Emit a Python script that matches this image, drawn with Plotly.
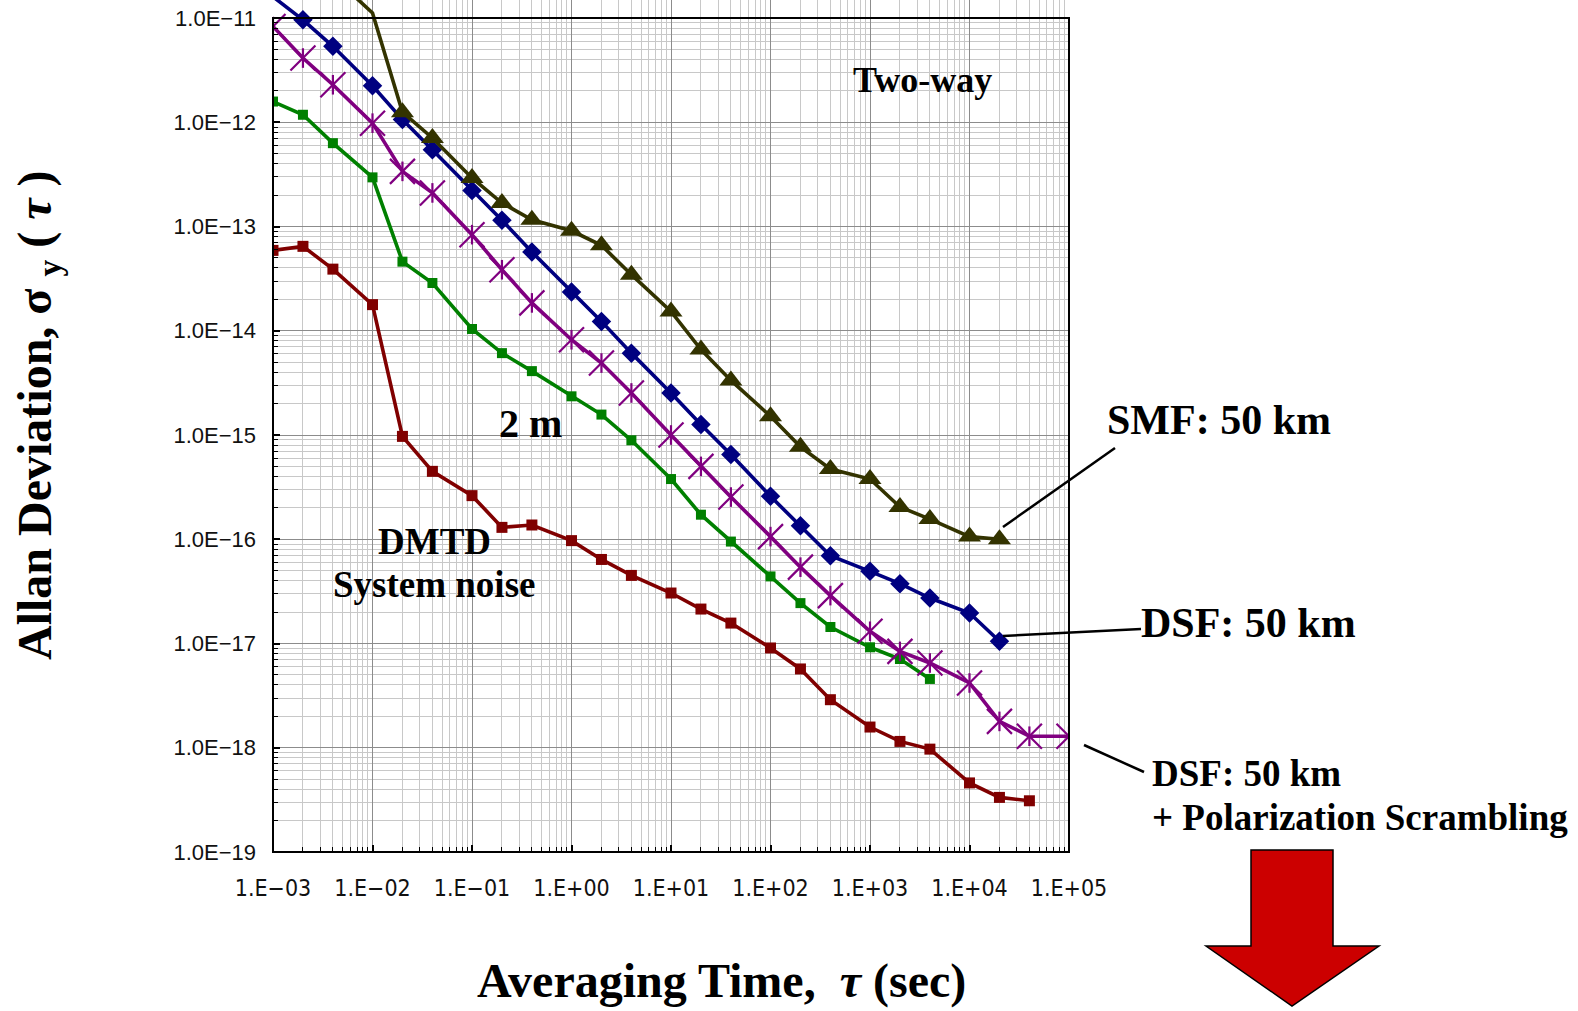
import numpy as np
import plotly.graph_objects as go

# ---------------- data ----------------
tau_dmtd = [1e-3, 2e-3, 4e-3, 1e-2, 2e-2, 4e-2, 0.1, 0.2, 0.4, 1, 2, 4, 10, 20, 40,
            100, 200, 400, 1000, 2000, 4000, 1e4, 2e4, 4e4]
adev_dmtd = [5.9e-14, 6.45e-14, 3.9e-14, 1.78e-14, 9.7e-16, 4.48e-16, 2.62e-16, 1.3e-16,
             1.37e-16, 9.7e-17, 6.4e-17, 4.5e-17, 3.05e-17, 2.14e-17, 1.57e-17, 9.06e-18,
             5.7e-18, 2.89e-18, 1.58e-18, 1.15e-18, 9.7e-19, 4.6e-19, 3.34e-19, 3.1e-19]

tau_2m = [1e-3, 2e-3, 4e-3, 1e-2, 2e-2, 4e-2, 0.1, 0.2, 0.4, 1, 2, 4, 10, 20, 40,
          100, 200, 400, 1000, 2000, 4000]
adev_2m = [1.58e-12, 1.18e-12, 6.3e-13, 2.96e-13, 4.6e-14, 2.87e-14, 1.04e-14, 6.1e-15,
           4.1e-15, 2.35e-15, 1.57e-15, 8.9e-16, 3.78e-16, 1.72e-16, 9.5e-17, 4.4e-17,
           2.44e-17, 1.44e-17, 9.2e-18, 7.1e-18, 4.57e-18]

tau_ps = [1e-3, 2e-3, 4e-3, 1e-2, 2e-2, 4e-2, 0.1, 0.2, 0.4, 1, 2, 4, 10, 20, 40,
          100, 200, 400, 1000, 2000, 4000, 1e4, 2e4, 4e4, 1e5]
adev_ps = [8.3e-12, 4.13e-12, 2.29e-12, 9.8e-13, 3.38e-13, 2.1e-13, 8.35e-14, 3.85e-14,
           1.85e-14, 8.2e-15, 4.9e-15, 2.53e-15, 1.0e-15, 5.0e-16, 2.54e-16, 1.06e-16,
           5.4e-17, 2.88e-17, 1.31e-17, 8.4e-18, 6.5e-18, 4.18e-18, 1.79e-18, 1.29e-18,
           1.29e-18]

tau_dsf = [1e-3, 2e-3, 4e-3, 1e-2, 2e-2, 4e-2, 0.1, 0.2, 0.4, 1, 2, 4, 10, 20, 40,
           100, 200, 400, 1000, 2000, 4000, 1e4, 2e4]
adev_dsf = [1.6e-11, 9.6e-12, 5.35e-12, 2.24e-12, 1.06e-12, 5.46e-13, 2.22e-13, 1.15e-13,
            5.7e-14, 2.35e-14, 1.23e-14, 6.1e-15, 2.53e-15, 1.26e-15, 6.5e-16, 2.58e-16,
            1.35e-16, 6.95e-17, 4.92e-17, 3.75e-17, 2.73e-17, 1.96e-17, 1.05e-17]

tau_smf = [4e-3, 1e-2, 2e-2, 4e-2, 0.1, 0.2, 0.4, 1, 2, 4, 10, 20, 40,
           100, 200, 400, 1000, 2000, 4000, 1e4, 2e4]
adev_smf = [2.5e-11, 1.12e-11, 1.25e-12, 7.06e-13, 2.92e-13, 1.68e-13, 1.16e-13, 9.1e-14,
            6.6e-14, 3.45e-14, 1.53e-14, 6.6e-15, 3.34e-15, 1.51e-15, 7.7e-16, 4.72e-16,
            3.78e-16, 2.04e-16, 1.56e-16, 1.06e-16, 1.0e-16]

x_tick_vals = [1e-3, 1e-2, 1e-1, 1e0, 1e1, 1e2, 1e3, 1e4, 1e5]
x_tick_text = ["1.E−03", "1.E−02", "1.E−01", "1.E+00", "1.E+01", "1.E+02",
               "1.E+03", "1.E+04", "1.E+05"]
y_tick_vals = [1e-19, 1e-18, 1e-17, 1e-16, 1e-15, 1e-14, 1e-13, 1e-12, 1e-11]
y_tick_text = ["1.0E−19", "1.0E−18", "1.0E−17", "1.0E−16", "1.0E−15", "1.0E−14",
               "1.0E−13", "1.0E−12", "1.0E−11"]

# ---------------- layout geometry ----------------
W, H = 1578, 1011
L, R, T, B = 273, 509, 0, 159
PW, PH = W - L - R, H - T - B
Y_BOTTOM = -19.0
Y_TOP = Y_BOTTOM + PH / 104.25      # plot area extends a little above 1E-11
Y_MAXSHOWN = 1e-11


def xp(px):
    return (px - L) / PW


def yp(py):
    return 1 - (py - T) / PH


y_frame_top = (np.log10(Y_MAXSHOWN) - Y_BOTTOM) / (Y_TOP - Y_BOTTOM)

fig = go.Figure()


def add_series(tau, adev, color, symbol, size, lw=3.6):
    tau = np.asarray(tau)
    adev = np.asarray(adev)
    fig.add_trace(go.Scatter(x=tau, y=adev, mode="lines",
                             line=dict(color=color, width=lw), showlegend=False,
                             hoverinfo="skip"))
    m = adev <= Y_MAXSHOWN * 1.0001
    if symbol == "star6":
        fig.add_trace(go.Scatter(x=tau[m], y=adev[m], mode="markers", showlegend=False,
                                 marker=dict(symbol="x-thin-open", size=25, color=color,
                                             line=dict(color=color, width=2.2))))
        fig.add_trace(go.Scatter(x=tau[m], y=adev[m], mode="markers", showlegend=False,
                                 marker=dict(symbol="line-ns-open", size=14, color=color,
                                             line=dict(color=color, width=2.2))))
    else:
        fig.add_trace(go.Scatter(x=tau[m], y=adev[m], mode="markers", showlegend=False,
                                 marker=dict(symbol=symbol, size=size, color=color,
                                             line=dict(width=0))))


add_series(tau_dmtd, adev_dmtd, "#800000", "square", 11)
add_series(tau_2m, adev_2m, "#008000", "square", 10)
add_series(tau_ps, adev_ps, "#800080", "star6", 0)
add_series(tau_dsf, adev_dsf, "#000080", "diamond", 15)
add_series(tau_smf, adev_smf, "#333300", "triangle-up", 20)

tick_font_y = dict(family="Liberation Sans, Arial, sans-serif", size=22, color="#111")
tick_font_x = dict(family="Liberation Sans Narrow, DejaVu Sans Condensed, Liberation Sans, sans-serif",
                   size=23, color="#111")

fig.update_xaxes(type="log", range=[-3, 5], tickmode="array", tickvals=x_tick_vals,
                 ticktext=x_tick_text, tickfont=tick_font_x, ticks="inside", ticklen=7,
                 tickwidth=1.5, tickcolor="black", showline=False, showgrid=True,
                 gridcolor="#8c8c8c", gridwidth=1, zeroline=False, ticklabelstandoff=20,
                 minor=dict(dtick="D1", ticks="inside", ticklen=5, tickwidth=1.2,
                            tickcolor="black", showgrid=True, gridcolor="#c8c8c8",
                            gridwidth=1))
fig.update_yaxes(type="log", range=[Y_BOTTOM, Y_TOP], tickmode="array",
                 tickvals=y_tick_vals, ticktext=y_tick_text, tickfont=tick_font_y,
                 ticks="inside", ticklen=7, tickwidth=1.5, tickcolor="black",
                 showline=False, showgrid=True, gridcolor="#8c8c8c", gridwidth=1,
                 zeroline=False, ticklabelstandoff=16,
                 minor=dict(dtick="D1", ticks="inside", ticklen=5, tickwidth=1.2,
                            tickcolor="black", showgrid=True, gridcolor="#c8c8c8",
                            gridwidth=1))

shapes = []
# hide grid above the 1E-11 frame (traces still drawn on top)
shapes.append(dict(type="rect", xref="paper", yref="paper", x0=-0.002, x1=1.002,
                   y0=y_frame_top, y1=1.0, fillcolor="white", line=dict(width=0),
                   layer="between"))
# plot frame
shapes.append(dict(type="rect", xref="paper", yref="paper", x0=0, x1=1, y0=0,
                   y1=y_frame_top, line=dict(color="black", width=2), layer="above"))
# leader lines
for (x0, y0, x1, y1) in [(1003, 527, 1115, 448), (1003, 636, 1141, 629),
                         (1084, 745, 1144, 772)]:
    shapes.append(dict(type="line", xref="paper", yref="paper", x0=xp(x0), y0=yp(y0),
                       x1=xp(x1), y1=yp(y1), line=dict(color="black", width=2.5)))
# big red arrow
arrow_px = [(1251, 850), (1333, 850), (1333, 946), (1379, 946), (1292, 1006),
            (1206, 946), (1251, 946)]
path = "M " + " L ".join(f"{xp(a):.5f},{yp(b):.5f}" for a, b in arrow_px) + " Z"
shapes.append(dict(type="path", xref="paper", yref="paper", path=path,
                   fillcolor="#CC0000", line=dict(color="black", width=1.5)))

serif = "Liberation Serif, Times New Roman, serif"


def note(text, x, y, size, xanchor="center", angle=0):
    return dict(text=text, xref="paper", yref="paper", x=xp(x), y=yp(y),
                xanchor=xanchor, yanchor="middle", showarrow=False, textangle=angle,
                font=dict(family=serif, size=size, color="black"))


annotations = [
    note("<b>Two-way</b>", 922, 80, 36),
    note("<b>2 m</b>", 530, 423, 40),
    note("<b>DMTD</b>", 434, 541, 37),
    note("<b>System noise</b>", 434, 584, 37),
    note("<b>SMF: 50 km</b>", 1219, 420, 42),
    note("<b>DSF: 50 km</b>", 1248, 623, 42),
    note("<b>DSF: 50 km</b>", 1150, 773, 37, xanchor="left"),
    note("<b>+ Polarization Scrambling</b>", 1150, 817, 37, xanchor="left"),
    note("<b>Averaging Time,  <i>τ</i> (sec)</b>", 721, 981, 48),
    note("<b>Allan Deviation, σ <sub>y</sub> ( <i>τ</i> )</b>", 38, 415, 48, angle=-90),
]

fig.update_layout(width=W, height=H, margin=dict(l=L, r=R, t=T, b=B, pad=0),
                  paper_bgcolor="white", plot_bgcolor="white", showlegend=False,
                  shapes=shapes, annotations=annotations)

fig.write_html("out.html")
